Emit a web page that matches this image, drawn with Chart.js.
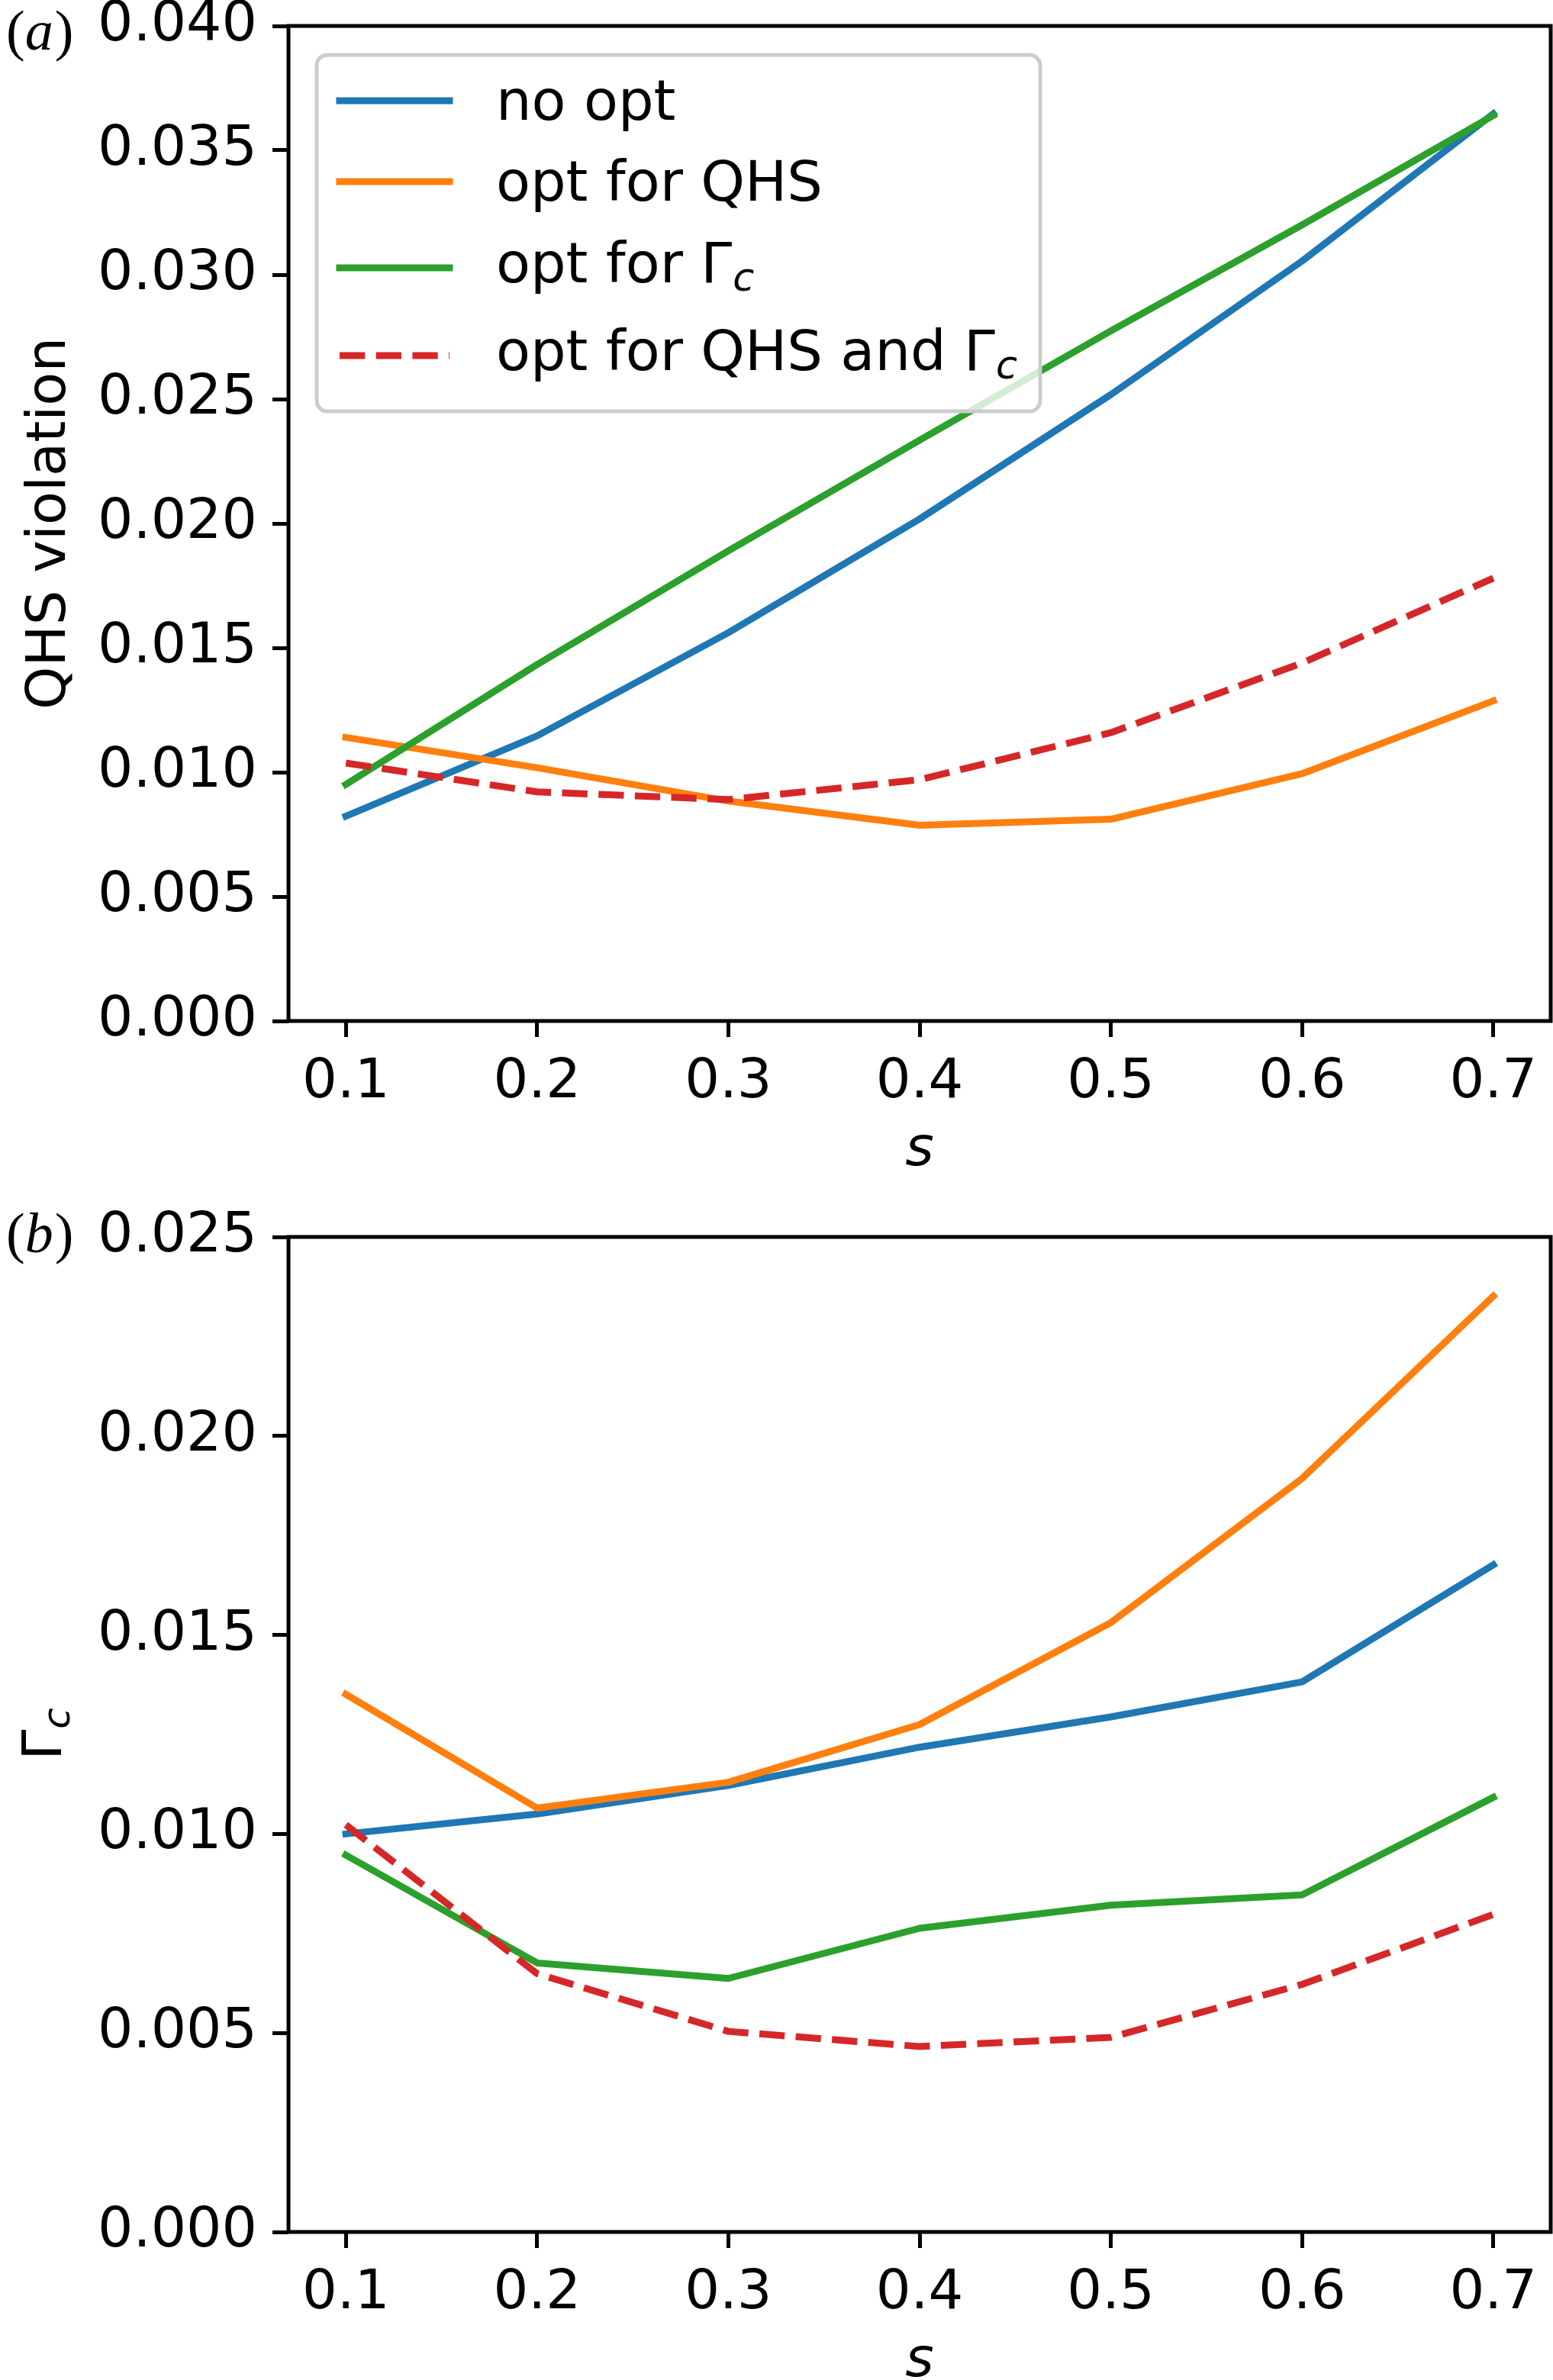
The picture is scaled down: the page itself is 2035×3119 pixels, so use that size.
<!DOCTYPE html>
<html>
<head>
<meta charset="utf-8">
<script src="https://cdn.jsdelivr.net/npm/chart.js@4.4.1/dist/chart.umd.min.js"></script>
<style>
  body { margin: 0; background: #fff; }
  canvas { position: absolute; left: 0; }
</style>
</head>
<body>
<canvas id="chartA" width="2035" height="1560" style="top:0px"></canvas>
<canvas id="chartB" width="2035" height="1559" style="top:1560px"></canvas>
<script>
// x values (s) and tick labels
const sValues = [0.1, 0.2, 0.3, 0.4, 0.5, 0.6, 0.7];
const xTicks = [0.1, 0.2, 0.3, 0.4, 0.5, 0.6, 0.7];
const yTicksA = [0, 0.005, 0.01, 0.015, 0.02, 0.025, 0.03, 0.035, 0.04];
const yTicksB = [0, 0.005, 0.01, 0.015, 0.02, 0.025];

// legend labels (main text + subscript)
const seriesLabels = ['no opt', 'opt for QHS', 'opt for \u0393', 'opt for QHS and \u0393'];
const seriesSubs = ['', '', 'c', 'c'];
const seriesColors = ['#1f77b4', '#ff7f0e', '#2ca02c', '#d62728'];

// (a) QHS violation
const qhsNoOpt = [0.00823, 0.01146, 0.01561, 0.02018, 0.02518, 0.03055, 0.03647];
const qhsOptQhs = [0.0114, 0.01018, 0.00884, 0.00787, 0.00811, 0.00994, 0.01287];
const qhsOptGamma = [0.00951, 0.01433, 0.0189, 0.02335, 0.02774, 0.0320, 0.0364];
const qhsOptBoth = [0.01037, 0.00921, 0.0089, 0.0097, 0.01159, 0.01439, 0.0178];

// (b) Gamma_c
const gamNoOpt = [0.0100, 0.0105, 0.01122, 0.01218, 0.01294, 0.01382, 0.01676];
const gamOptQhs = [0.01351, 0.01065, 0.0113, 0.01275, 0.01531, 0.01893, 0.02351];
const gamOptGamma = [0.00947, 0.00676, 0.00637, 0.00763, 0.00821, 0.00847, 0.01092];
const gamOptBoth = [0.01023, 0.00649, 0.00504, 0.00466, 0.00489, 0.00622, 0.00798];

const FONT = 'DejaVu Sans';
const dash = [33.3, 14.4];

function makeDatasets(series) {
    return series.map((vals, i) => ({
        label: seriesLabels[i] + seriesSubs[i],
        data: vals.map((v, j) => ({x: sValues[j], y: v})),
        borderColor: seriesColors[i],
        borderWidth: 9,
        borderDash: i === 3 ? dash : [],
        borderCapStyle: i === 3 ? 'butt' : 'square',
        borderJoinStyle: 'round',
        pointRadius: 0,
        fill: false,
        tension: 0,
        order: 3 - i
    }));
}

// box around the axes (all four spines)
const framePlugin = {
    id: 'frame',
    afterDatasetsDraw(chart) {
        const {ctx, chartArea: a} = chart;
        ctx.save();
        ctx.strokeStyle = '#000';
        ctx.lineWidth = 5;
        ctx.strokeRect(a.left, a.top, a.right - a.left, a.bottom - a.top);
        ctx.restore();
    }
};

function panelLabel(letter, baseY) {
    return {
        id: 'panel' + letter,
        afterDraw(chart) {
            const ctx = chart.ctx;
            ctx.save();
            ctx.fillStyle = '#000';
            ctx.textBaseline = 'alphabetic';
            ctx.textAlign = 'left';
            let x = 8;
            ctx.font = '74px "Liberation Serif"';
            ctx.fillText('(', x, baseY);
            x += ctx.measureText('(').width;
            ctx.font = 'italic 74px "Liberation Serif"';
            ctx.fillText(letter, x, baseY);
            x += ctx.measureText(letter).width + 2;
            ctx.font = '74px "Liberation Serif"';
            ctx.fillText(')', x, baseY);
            ctx.restore();
        }
    };
}

function drawSubText(ctx, main, sub, x, y, size) {
    ctx.font = size + 'px "' + FONT + '"';
    ctx.fillText(main, x, y);
    if (sub) {
        const w = ctx.measureText(main).width;
        ctx.font = 'italic ' + Math.round(size * 0.7) + 'px "' + FONT + '"';
        ctx.fillText(sub, x + w + 1, y + 11);
    }
}

const legendPlugin = {
    id: 'boxLegend',
    afterDatasetsDraw(chart) {
        const ctx = chart.ctx;
        const x0 = 415, y0 = 72, x1 = 1363, y1 = 539, r = 14;
        ctx.save();
        ctx.beginPath();
        ctx.moveTo(x0 + r, y0);
        ctx.arcTo(x1, y0, x1, y1, r);
        ctx.arcTo(x1, y1, x0, y1, r);
        ctx.arcTo(x0, y1, x0, y0, r);
        ctx.arcTo(x0, y0, x1, y0, r);
        ctx.closePath();
        ctx.fillStyle = 'rgba(255,255,255,0.8)';
        ctx.fill();
        ctx.strokeStyle = '#cccccc';
        ctx.lineWidth = 5;
        ctx.stroke();

        const handleY = [132, 238, 351, 466];
        const baseY = [157, 263, 370, 485];
        chart.data.datasets.forEach((ds, i) => {
            ctx.beginPath();
            ctx.strokeStyle = ds.borderColor;
            ctx.lineWidth = 9;
            ctx.setLineDash(ds.borderDash);
            ctx.lineCap = ds.borderCapStyle;
            ctx.moveTo(445, handleY[i]);
            ctx.lineTo(589, handleY[i]);
            ctx.stroke();
            ctx.setLineDash([]);
            ctx.fillStyle = '#000';
            ctx.textBaseline = 'alphabetic';
            ctx.textAlign = 'left';
            drawSubText(ctx, seriesLabels[i], seriesSubs[i], 650, baseY[i], 73.5);
        });
        ctx.restore();
    }
};

// y label of (b): Gamma with subscript c, rotated
const gammaTitlePlugin = {
    id: 'gammaTitle',
    afterDraw(chart) {
        const {ctx, chartArea: a} = chart;
        ctx.save();
        ctx.translate(80, (a.top + a.bottom) / 2);
        ctx.rotate(-Math.PI / 2);
        ctx.fillStyle = '#000';
        ctx.textBaseline = 'alphabetic';
        ctx.textAlign = 'left';
        ctx.font = '72px "' + FONT + '"';
        const w1 = ctx.measureText('\u0393').width;
        ctx.font = 'italic 50px "' + FONT + '"';
        const w2 = ctx.measureText('c').width;
        drawSubText(ctx, '\u0393', 'c', -(w1 + w2) / 2, 0, 72);
        ctx.restore();
    }
};

function xAxis(height, titlePad) {
    return {
        type: 'linear',
        min: 0.07,
        max: 0.73,
        afterBuildTicks: s => { s.ticks = xTicks.map(v => ({value: v})); },
        afterFit: s => { s.height = height; s.paddingLeft = 0; s.paddingRight = 0; },
        grid: { drawOnChartArea: false, drawTicks: true, tickLength: 21, tickWidth: 5, tickColor: '#000' },
        border: { display: false },
        ticks: {
            color: '#000',
            font: { family: FONT, size: 72 },
            padding: 17,
            maxRotation: 0,
            autoSkip: false,
            callback: v => v.toFixed(1)
        },
        title: {
            display: true,
            text: 's',
            color: '#000',
            font: { family: FONT, size: 72, style: 'italic' },
            padding: { top: 0, bottom: titlePad }
        }
    };
}

function yAxis(max, ticksArr, title) {
    return {
        type: 'linear',
        min: 0,
        max: max,
        afterBuildTicks: s => { s.ticks = ticksArr.map(v => ({value: v})); },
        afterFit: s => { s.width = 378; s.paddingTop = 0; s.paddingBottom = 0; },
        grid: { drawOnChartArea: false, drawTicks: true, tickLength: 21, tickWidth: 5, tickColor: '#000' },
        border: { display: false },
        ticks: {
            color: '#000',
            font: { family: FONT, size: 73 },
            padding: 20,
            autoSkip: false,
            callback: v => v.toFixed(3)
        },
        title: {
            display: !!title,
            text: title || '',
            color: '#000',
            font: { family: FONT, size: 72 },
            padding: { top: 23, bottom: 0 }
        }
    };
}

const commonOpts = {
    responsive: false,
    animation: false,
    devicePixelRatio: 1,
    events: [],
    plugins: { legend: { display: false }, tooltip: { enabled: false } }
};

new Chart(document.getElementById('chartA'), {
    type: 'line',
    data: { datasets: makeDatasets([qhsNoOpt, qhsOptQhs, qhsOptGamma, qhsOptBoth]) },
    options: Object.assign({}, commonOpts, {
        layout: { padding: { top: 34, right: 3, bottom: 0, left: 0 } },
        scales: {
            x: xAxis(222, 9),
            y: yAxis(0.04, yTicksA, 'QHS violation')
        }
    }),
    plugins: [framePlugin, legendPlugin, panelLabel('a', 65)]
});

new Chart(document.getElementById('chartB'), {
    type: 'line',
    data: { datasets: makeDatasets([gamNoOpt, gamOptQhs, gamOptGamma, gamOptBoth]) },
    options: Object.assign({}, commonOpts, {
        layout: { padding: { top: 61, right: 3, bottom: 0, left: 0 } },
        scales: {
            x: xAxis(194, -19),
            y: yAxis(0.025, yTicksB, '')
        }
    }),
    plugins: [framePlugin, gammaTitlePlugin, panelLabel('b', 81)]
});
</script>
</body>
</html>
